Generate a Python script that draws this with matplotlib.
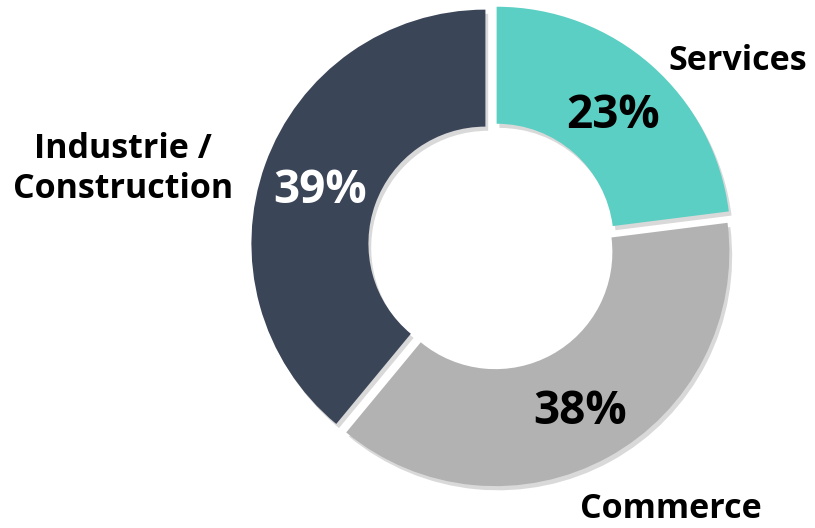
import matplotlib
matplotlib.use('Agg')
import matplotlib.pyplot as plt
import matplotlib.patheffects as pe

# data
sectors = ['Services', 'Commerce', 'Industrie /\nConstruction']
shares = [23, 38, 39]
colors = ['#5bcfc3', '#b2b2b2', '#3a4558']
pct_colors = ['black', 'black', 'white']

plt.rcParams['font.family'] = ['Open Sans', 'DejaVu Sans']

W, H = 815, 528
fig = plt.figure(figsize=(W / 100, H / 100), dpi=100)
ax = fig.add_axes([0, 0, 1, 1])

wedges, texts, autotexts = ax.pie(
    shares, colors=colors, startangle=90, counterclock=False,
    center=(492, H - 246), radius=234, explode=[7, 7, 7],
    wedgeprops=dict(width=117, linewidth=0),
    autopct='%d%%', pctdistance=0.75, frame=True)
ax.set_xlim(0, W)
ax.set_ylim(0, H)
ax.set_aspect('equal')
ax.axis('off')

for w in wedges:
    w.set_path_effects([pe.SimplePatchShadow(offset=(2, -3), alpha=0.15, shadow_rgbFace='black'),
                        pe.Normal()])

for t, c in zip(autotexts, pct_colors):
    x, y = t.get_position()
    t.set_position((x, y - 6))
    t.set_color(c)
    t.set_fontsize(33)
    t.set_fontweight('bold')

# category labels
label_pos = [(738, 61), (671, 509), (123, 169)]
for name, (x, y) in zip(sectors, label_pos):
    ax.text(x, H - y, name, ha='center', va='center', fontsize=24.5, fontweight='bold',
            color='black', linespacing=1.22, multialignment='center')

fig.savefig('out.png', dpi=100)
